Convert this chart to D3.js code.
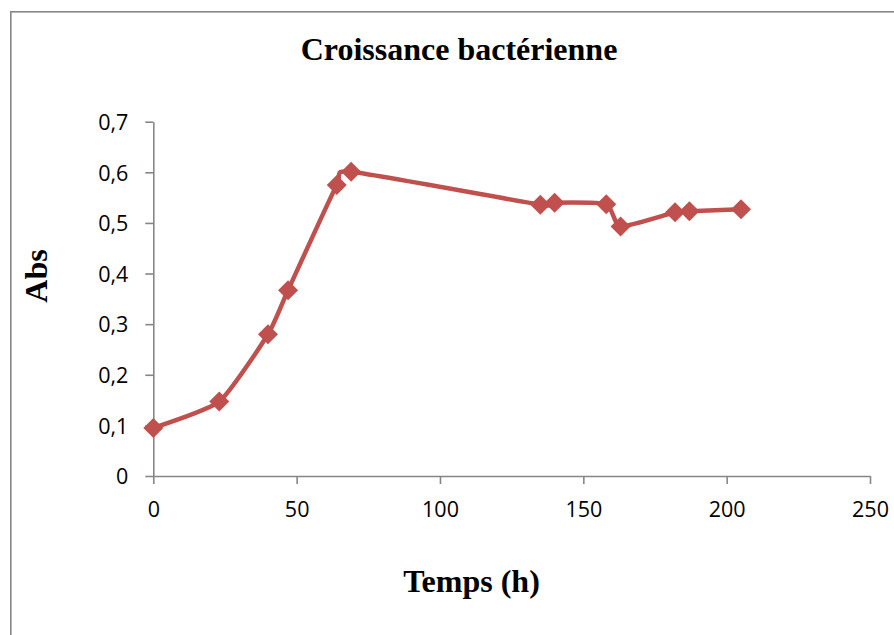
<!DOCTYPE html>
<html>
<head>
<meta charset="utf-8">
<script src="https://cdn.jsdelivr.net/npm/d3@7"></script>
<style>
  html, body { margin: 0; padding: 0; background: #fff; }
  svg { display: block; }
</style>
</head>
<body>
<svg id="chart" width="894" height="635"></svg>
<script>
// Growth curve: absorbance readings over time (hours)
const hours = [0, 23, 40, 47, 64, 69, 135, 140, 158, 163, 182, 187, 205];
const absorbance = [0.095, 0.147, 0.280, 0.367, 0.575, 0.601, 0.536, 0.540, 0.537, 0.493, 0.521, 0.523, 0.527];
const xTicks = [0, 50, 100, 150, 200, 250];
const yTicks = [0, 0.1, 0.2, 0.3, 0.4, 0.5, 0.6, 0.7];

const svg = d3.select("#chart");
const axisColor = "#868686";
const lineColor = "#C0504D";
const labelFont = "'Open Sans', sans-serif";
const titleFont = "'Liberation Serif', 'Times New Roman', serif";

// Chart border (runs past the right and bottom edges)
svg.append("rect")
  .attr("x", 10.8).attr("y", 11.8)
  .attr("width", 900).attr("height", 640)
  .attr("fill", "#fff")
  .attr("stroke", axisColor).attr("stroke-width", 1.6);

const x = d3.scaleLinear().domain([0, 250]).range([153.3, 870]);
const y = d3.scaleLinear().domain([0, 0.7]).range([476, 121.7]);

const fmt = d => d === 0 ? "0" : d3.format(".1f")(d).replace(".", ",");

// X axis
const gx = svg.append("g").attr("transform", `translate(0,${y(0)})`)
  .call(d3.axisBottom(x).tickValues(xTicks).tickSizeOuter(0).tickSizeInner(8).tickPadding(18).tickFormat(d3.format("d")));
// Y axis
const gy = svg.append("g").attr("transform", `translate(${x(0)},0)`)
  .call(d3.axisLeft(y).tickValues(yTicks).tickSizeOuter(0).tickSizeInner(8).tickPadding(17).tickFormat(fmt));

[gx, gy].forEach(g => {
  g.select(".domain").attr("stroke", axisColor).attr("stroke-width", 1.6);
  g.selectAll(".tick line").attr("stroke", axisColor).attr("stroke-width", 1.6);
  g.selectAll(".tick text")
    .attr("fill", "#000")
    .style("font-family", labelFont)
    .style("font-size", "21.5px");
});
gy.selectAll(".tick text").attr("dy", "0.36em");
gx.selectAll(".tick text").attr("dy", "0.71em");

// Data series, lightly smoothed cardinal spline
const pts = hours.map((h, i) => [h, absorbance[i]]);
const line = d3.line()
  .x(d => x(d[0]))
  .y(d => y(d[1]))
  .curve(d3.curveCardinal.tension(0.45));

svg.append("path")
  .datum(pts)
  .attr("d", line)
  .attr("fill", "none")
  .attr("stroke", lineColor)
  .attr("stroke-width", 4.5)
  .attr("stroke-linejoin", "round");

const diamond = d3.symbol().type(d3.symbolSquare).size(200);
svg.append("g").selectAll("path")
  .data(pts)
  .join("path")
  .attr("d", diamond)
  .attr("transform", d => `translate(${x(d[0])},${y(d[1])}) rotate(45)`)
  .attr("fill", lineColor);

// Titles
const bold = (sel) => sel
  .attr("text-anchor", "middle")
  .style("font-family", titleFont)
  .style("font-weight", "bold")
  .style("font-size", "32px");

svg.append("text").call(bold)
  .attr("x", 459).attr("y", 60)
  .text("Croissance bactérienne");

svg.append("text").call(bold)
  .attr("x", 471.5).attr("y", 592)
  .text("Temps (h)");

svg.append("text").call(bold)
  .attr("transform", "translate(47,276) rotate(-90)")
  .text("Abs");
</script>
</body>
</html>
